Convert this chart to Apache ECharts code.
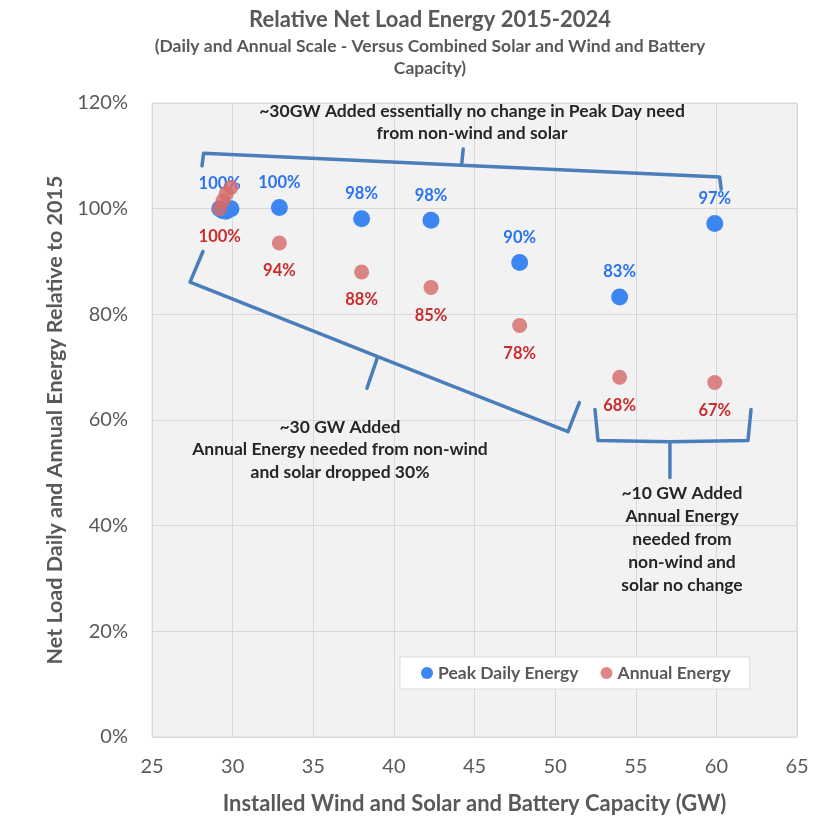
<!DOCTYPE html>
<html>
<head>
<meta charset="utf-8">
<script src="https://cdn.jsdelivr.net/npm/echarts@6/dist/echarts.min.js"></script>
<style>
  html, body { margin: 0; padding: 0; background: #fff; }
  #chart { width: 833px; height: 824px; }
</style>
</head>
<body>
<div id="chart"></div>
<script>
// installed capacity (GW) per year 2015-2024
const capacityGW = [29.2, 29.4, 29.6, 29.9, 32.9, 38.0, 42.3, 47.8, 54.0, 59.9]
// net load relative to 2015 (%)
const peakDaily = [100.0, 99.6, 99.5, 100.0, 100.2, 98.1, 97.8, 89.8, 83.3, 97.2]
const annual = [100.0, 101.5, 102.8, 104.0, 93.5, 88.0, 85.1, 77.9, 68.1, 67.1]
// which points carry a value label
const showLabel = [true, false, false, false, true, true, true, true, true, true]

// bracket callouts, in data units [GW, %]
const bracketTop = [[28.1, 108.1], [28.2, 110.5], [44.2, 108.2], [44.3, 111.3], [44.2, 108.2], [60.2, 106.0], [60.3, 103.7]]
const bracketLeft = [[28.16, 91.9], [27.36, 86.1], [39.0, 72.0], [38.33, 66.0], [39.0, 72.0], [50.8, 57.8], [51.5, 63.3]]
const bracketRight = [[52.47, 62.0], [52.66, 56.1], [57.12, 55.9], [57.12, 49.1], [57.12, 55.9], [61.96, 56.1], [62.15, 62.0]]

const FONT = 'Lato'
const GREY = '#595959'

function points (ys) {
  return capacityGW.map((x, i) => ({
    value: [x, ys[i]],
    label: { show: showLabel[i] }
  }))
}

function bracket (data) {
  return {
    type: 'line',
    data: data,
    silent: true,
    symbol: 'none',
    z: 1,
    lineStyle: { color: '#4a7ebb', width: 3.5, join: 'round', cap: 'round' }
  }
}

function note (text, x, y, lh) {
  return {
    type: 'text',
    x: x,
    y: y,
    z: 10,
    style: {
      text: text,
      align: 'center',
      verticalAlign: 'top',
      font: 'bold 17.5px ' + FONT,
      fill: '#262626',
      lineHeight: lh
    }
  }
}

const chart = echarts.init(document.getElementById('chart'))
chart.setOption({
  animation: false,
  textStyle: { fontFamily: FONT },
  title: {
    text: 'Relative Net Load Energy 2015-2024',
    subtext: '(Daily and Annual Scale - Versus Combined Solar and Wind and Battery\nCapacity)',
    left: 425,
    textAlign: 'center',
    top: 4,
    itemGap: 4,
    textStyle: { fontFamily: FONT, fontSize: 22, fontWeight: 'bold', color: GREY },
    subtextStyle: { fontFamily: FONT, fontSize: 17.5, fontWeight: 'bold', color: GREY, lineHeight: 22 }
  },
  legend: {
    data: ['Peak Daily Energy', 'Annual Energy'],
    left: 400,
    top: 657,
    width: 350,
    icon: 'circle',
    itemWidth: 12,
    itemHeight: 12,
    itemGap: 22,
    padding: [7, 19, 7, 21],
    backgroundColor: '#fff',
    borderColor: '#d9d9d9',
    borderWidth: 1,
    textStyle: { fontFamily: FONT, fontSize: 17.5, fontWeight: 'bold', color: GREY }
  },
  grid: {
    left: 152, right: 36, top: 103, bottom: 87,
    show: true,
    backgroundColor: '#f2f2f2',
    borderColor: '#d9d9d9',
    borderWidth: 1
  },
  xAxis: {
    type: 'value',
    min: 25, max: 65, interval: 5,
    name: 'Installed Wind and Solar and Battery Capacity (GW)',
    nameLocation: 'middle',
    nameGap: 56,
    nameTextStyle: { fontFamily: FONT, fontSize: 22, fontWeight: 'bold', color: GREY },
    axisLine: { show: false },
    axisTick: { show: false },
    axisLabel: { fontFamily: FONT, fontSize: 20, color: GREY, margin: 20 },
    splitLine: { lineStyle: { color: '#d9d9d9' } }
  },
  yAxis: {
    type: 'value',
    min: 0, max: 120, interval: 20,
    name: 'Net Load Daily and Annual Energy Relative to 2015',
    nameLocation: 'middle',
    nameGap: 84,
    nameTextStyle: { fontFamily: FONT, fontSize: 21.5, fontWeight: 'bold', color: GREY },
    axisLine: { show: false },
    axisTick: { show: false },
    axisLabel: { fontFamily: FONT, fontSize: 20, color: GREY, margin: 24, formatter: '{value}%' },
    splitLine: { lineStyle: { color: '#d9d9d9' } }
  },
  series: [
    bracket(bracketTop),
    bracket(bracketLeft),
    bracket(bracketRight),
    {
      name: 'Peak Daily Energy',
      type: 'scatter',
      data: points(peakDaily),
      symbolSize: 17,
      z: 3,
      itemStyle: { color: '#3b86f0', opacity: 1 },
      label: {
        position: 'top',
        distance: 8,
        fontFamily: FONT,
        fontSize: 16.5,
        fontWeight: 'bold',
        color: '#2a72f2',
        formatter: p => Math.round(p.value[1]) + '%'
      }
    },
    {
      name: 'Annual Energy',
      type: 'scatter',
      data: points(annual),
      symbolSize: 15,
      z: 4,
      itemStyle: { color: '#d46b6b', opacity: 0.82 },
      label: {
        position: 'bottom',
        distance: 12,
        fontFamily: FONT,
        fontSize: 16.5,
        fontWeight: 'bold',
        color: '#c00000',
        formatter: p => Math.round(p.value[1]) + '%'
      }
    }
  ],
  graphic: [
    note('~30GW Added essentially no change in Peak Day need\nfrom non-wind and solar', 472, 100, 22),
    note('~30 GW Added\nAnnual Energy needed from non-wind\nand solar dropped 30%', 340, 416, 22.5),
    note('~10 GW Added\nAnnual Energy\nneeded from\nnon-wind and\nsolar no change', 682, 482, 23)
  ]
})
</script>
</body>
</html>
